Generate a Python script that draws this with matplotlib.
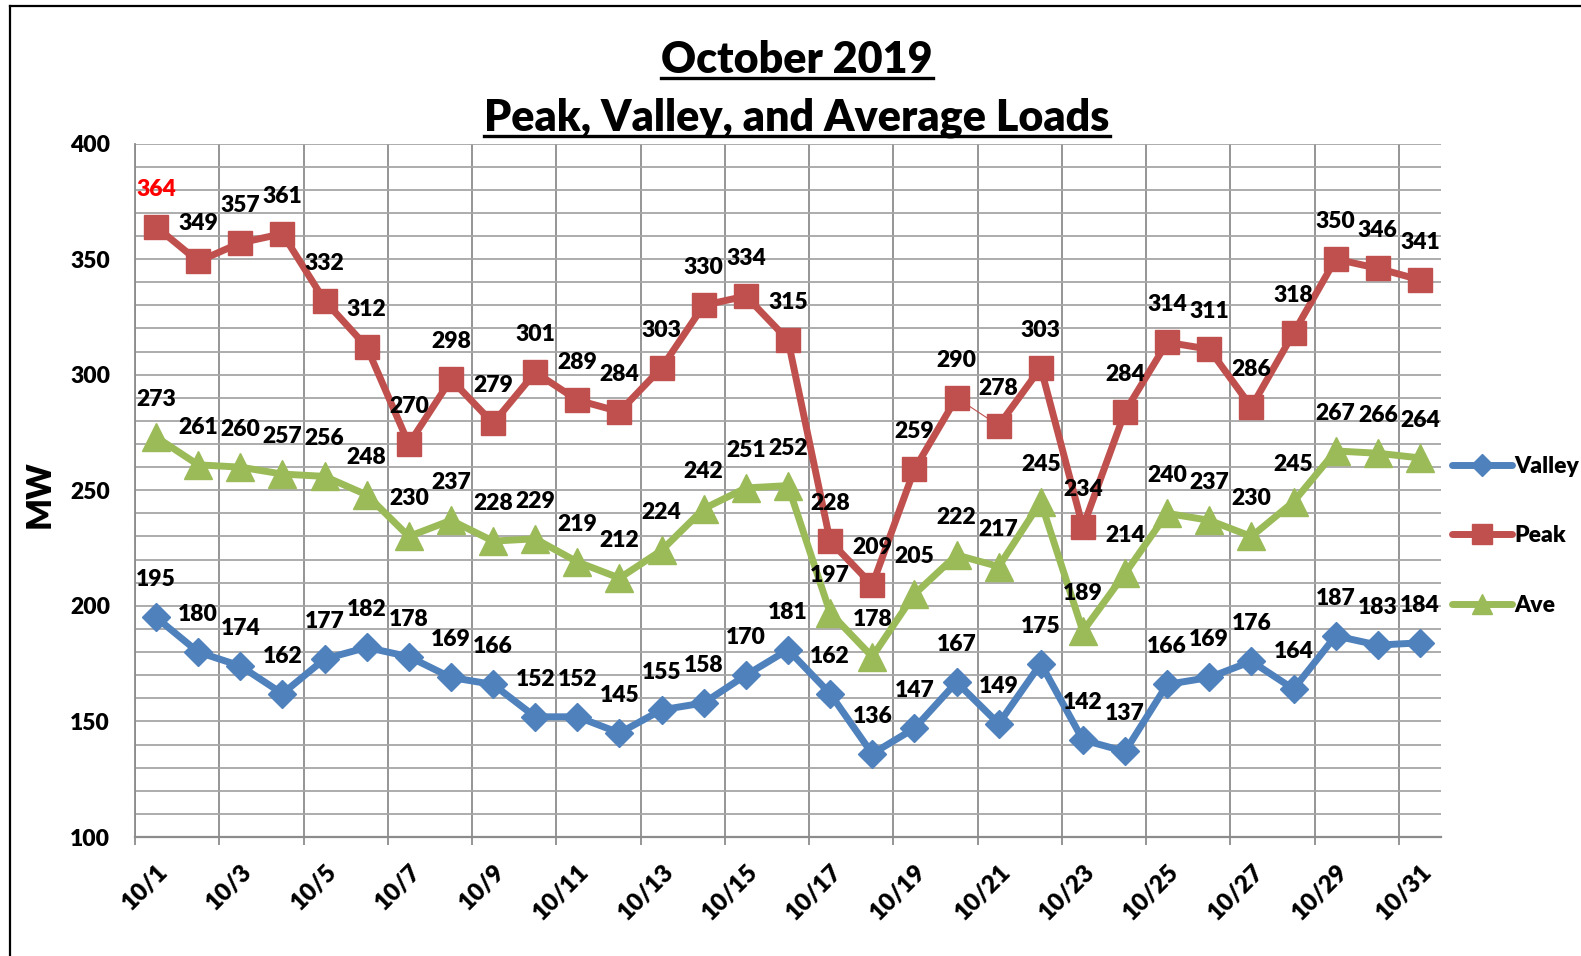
import matplotlib
matplotlib.use("Agg")
import matplotlib.pyplot as plt
import matplotlib.transforms as mtransforms
from matplotlib.lines import Line2D
import numpy as np

plt.rcParams['font.family'] = ['Lato', 'DejaVu Sans']
BW = 'heavy'

days = [f"10/{d}" for d in range(1, 32)]
valley = [195, 180, 174, 162, 177, 182, 178, 169, 166, 152, 152, 145, 155, 158, 170, 181,
          162, 136, 147, 167, 149, 175, 142, 137, 166, 169, 176, 164, 187, 183, 184]
peak = [364, 349, 357, 361, 332, 312, 270, 298, 279, 301, 289, 284, 303, 330, 334, 315,
        228, 209, 259, 290, 278, 303, 234, 284, 314, 311, 286, 318, 350, 346, 341]
ave = [273, 261, 260, 257, 256, 248, 230, 237, 228, 229, 219, 212, 224, 242, 251, 252,
       197, 178, 205, 222, 217, 245, 189, 214, 240, 237, 230, 245, 267, 266, 264]
# segment of the peak line drawn thin in the original (10/20 -> 10/21)
peak_thin_seg = [19]

c_valley = '#4F81BD'
c_peak = '#C0504D'
c_ave = '#9BBB59'

W, H = 1581, 956
fig = plt.figure(figsize=(W / 100, H / 100), dpi=100)
ax = fig.add_axes([135 / W, 1 - 837 / H, (1441 - 135) / W, (837 - 143.5) / H])

x = np.arange(len(days))
lw = 5.0

def draw_series(vals, color, marker, ms, thin=()):
    vals = np.array(vals, dtype=float)
    start = 0
    for b in sorted(thin):
        ax.plot(x[start:b + 1], vals[start:b + 1], color=color, lw=lw,
                solid_capstyle='round', solid_joinstyle='round', zorder=3)
        ax.plot(x[b:b + 2], vals[b:b + 2], color=color, lw=0.8, zorder=3)
        start = b + 1
    ax.plot(x[start:], vals[start:], color=color, lw=lw,
            solid_capstyle='round', solid_joinstyle='round', zorder=3)
    ax.plot(x, vals, linestyle='none', marker=marker, ms=ms, color=color,
            markeredgecolor=color, zorder=4)

draw_series(valley, c_valley, 'D', 14)
draw_series(peak, c_peak, 's', 17.5, peak_thin_seg)
draw_series(ave, c_ave, '^', 20)

def labels(vals, first_color='black'):
    for i, v in enumerate(vals):
        col = first_color if i == 0 else 'black'
        ax.annotate(str(v), (x[i], v), xytext=(0, 27), textcoords='offset points',
                    ha='center', va='center', fontsize=16.5, fontweight=BW,
                    color=col, zorder=5)

labels(valley)
labels(peak, first_color='#FF0000')
labels(ave)

ax.set_xlim(-0.5, len(days) - 0.5)
ax.set_ylim(100, 400)

ax.set_yticks(np.arange(100, 401, 50))
ax.set_yticks(np.arange(100, 401, 10), minor=True)
ax.grid(which='both', axis='y', color='#A6A6A6', lw=1.3)
ax.tick_params(axis='y', which='both', length=0, pad=18, labelsize=16.5)

bounds = np.arange(-0.5, len(days) - 1, 2)
ax.set_xticks(bounds, minor=True)
ax.grid(which='minor', axis='x', color='#8C8C8C', lw=1.3)
ax.set_xticks(x[::2])
ax.set_xticklabels(days[::2])
ax.tick_params(axis='x', which='major', length=0, pad=22, labelsize=17.5)
ax.tick_params(axis='x', which='minor', length=6, width=1.3, color='#8C8C8C', direction='out')
offset = mtransforms.ScaledTranslation(8 / 100, 0, fig.dpi_scale_trans)
for lab in ax.get_xticklabels():
    lab.set_rotation(45)
    lab.set_ha('right')
    lab.set_va('center')
    lab.set_rotation_mode('anchor')
    lab.set_fontweight(BW)
    lab.set_transform(lab.get_transform() + offset)
for lab in ax.get_yticklabels():
    lab.set_fontweight(BW)

for s in ['top', 'right']:
    ax.spines[s].set_visible(False)
ax.spines['left'].set_color('#8C8C8C')
ax.spines['bottom'].set_color('#8C8C8C')
ax.spines['left'].set_linewidth(1.3)
ax.spines['bottom'].set_linewidth(1.6)
ax.set_axisbelow(True)

fig.text(40 / W, 1 - 494 / H, 'MW', rotation=90, ha='center', va='center',
         fontsize=24, fontweight=BW)

# legend
handles = [
    Line2D([], [], color=c_valley, lw=lw, marker='D', ms=11, solid_capstyle='round'),
    Line2D([], [], color=c_peak, lw=lw, marker='s', ms=14, solid_capstyle='round'),
    Line2D([], [], color=c_ave, lw=lw, marker='^', ms=14, solid_capstyle='round'),
]
fig.legend(handles, ['Valley', 'Peak', 'Ave'], loc='center left',
           bbox_to_anchor=(1443 / W, 1 - 536 / H), frameon=False,
           prop={'size': 16.5, 'weight': BW}, handlelength=2.6,
           handletextpad=0.1, labelspacing=2.1, borderaxespad=0)

# title with underline
t1 = fig.text(797 / W, 1 - 73 / H, 'October 2019', ha='center', va='baseline',
              fontsize=31, fontweight=BW)
t2 = fig.text(797 / W, 1 - 131 / H, 'Peak, Valley, and Average Loads', ha='center',
              va='baseline', fontsize=31, fontweight=BW)
fig.canvas.draw()
r = fig.canvas.get_renderer()
for t, yb in [(t1, 73), (t2, 131)]:
    bb = t.get_window_extent(r)
    yy = 1 - (yb + 5) / H
    fig.add_artist(Line2D([bb.x0 / W, bb.x1 / W], [yy, yy], color='black', lw=2.4,
                          transform=fig.transFigure))

# outer frame
fig.add_artist(Line2D([10 / W, 10 / W], [0, 1 - 6 / H], color='black', lw=1.6,
                      transform=fig.transFigure))
fig.add_artist(Line2D([10 / W, 1], [1 - 6 / H, 1 - 6 / H], color='black', lw=1.6,
                      transform=fig.transFigure))

fig.savefig('out.png', dpi=100)
